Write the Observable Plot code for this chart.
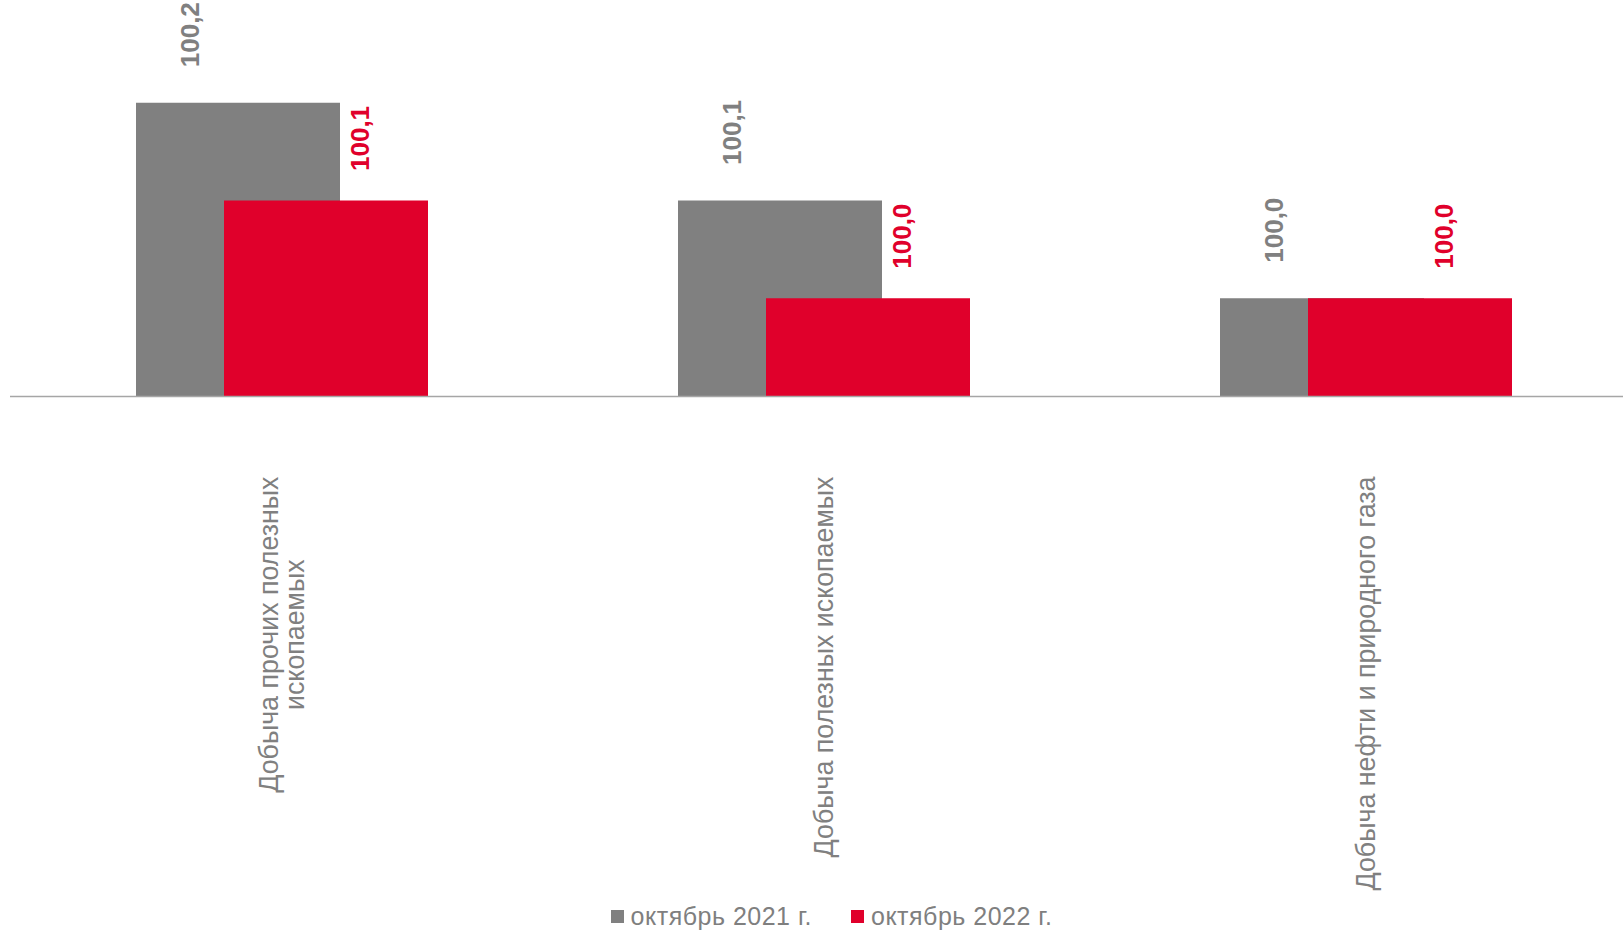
<!DOCTYPE html>
<html>
<head>
<meta charset="utf-8">
<script src="https://cdn.jsdelivr.net/npm/d3@7"></script>
<script src="https://cdn.jsdelivr.net/npm/@observablehq/plot@0.6"></script>
<style>
  html, body { margin: 0; padding: 0; background: #fff; }
  body { width: 1623px; height: 930px; overflow: hidden; font-family: "Liberation Sans", Arial, sans-serif; }
  #legend [class$="-swatch"] { margin-right: 39px !important; letter-spacing: 0.5px; }
  #legend [class$="-swatch"]:last-child { margin-right: 0 !important; }
  #legend [class$="-swatch"] svg { margin-right: 7px !important; }
</style>
</head>
<body>
<div id="chart"></div>
<div id="legend"></div>
<script>
const categories = [
  "Добыча прочих полезных\nископаемых",
  "Добыча полезных ископаемых",
  "Добыча нефти и природного газа"
];
const seriesNames = ["октябрь 2021 г.", "октябрь 2022 г."];
const values2021 = [100.2, 100.1, 100.0];
const values2022 = [100.1, 100.0, 100.0];
const seriesColors = ["#808080", "#E0002B"];
const baseline = 99.9;
const yMax = 100.3;

const rows2021 = categories.map((c, i) => ({category: c, value: values2021[i]}));
const rows2022 = categories.map((c, i) => ({category: c, value: values2022[i]}));
const fmt = v => v.toFixed(1).replace(".", ",");

const W = 1623, H = 900;
const plot = Plot.plot({
  width: W,
  height: H,
  marginLeft: 10,
  marginRight: 0,
  marginTop: 5,
  marginBottom: 504,
  style: {fontFamily: "'Liberation Sans', Arial, sans-serif", color: "#808080", background: "#fff"},
  x: {type: "band", domain: categories, range: [10, 1638], padding: 0},
  y: {domain: [baseline, yMax], axis: null},
  marks: [
    Plot.barY(rows2021, {x: "category", y1: baseline, y2: "value", fill: seriesColors[0], insetLeft: 125, insetRight: 213}),
    Plot.barY(rows2022, {x: "category", y1: baseline, y2: "value", fill: seriesColors[1], insetLeft: 213, insetRight: 125}),
    Plot.ruleY([baseline], {stroke: "#a6a6a6", strokeWidth: 1.5}),
    Plot.text(rows2021, {x: "category", y: "value", text: d => fmt(d.value), rotate: -90, textAnchor: "start", lineAnchor: "middle", dx: -92, dy: -36, fill: seriesColors[0], fontWeight: "bold", fontSize: 26}),
    Plot.text(rows2022, {x: "category", y: "value", text: d => fmt(d.value), rotate: -90, textAnchor: "start", lineAnchor: "middle", dx: 78, dy: -30, fill: seriesColors[1], fontWeight: "bold", fontSize: 26}),
    Plot.axisX({tickRotate: -90, tickSize: 0, tickPadding: 80, fontSize: 26.8, textAnchor: "end", lineAnchor: "middle", fill: "#808080", label: null})
  ]
});
document.getElementById("chart").appendChild(plot);

// center shorter lines of multi-line category labels relative to the longest line
plot.querySelectorAll("text").forEach(t => {
  const spans = t.querySelectorAll("tspan");
  if (spans.length > 1) {
    const widths = Array.from(spans, s => s.getComputedTextLength());
    const wmax = Math.max(...widths);
    spans.forEach((s, i) => s.setAttribute("x", -(wmax - widths[i]) / 2));
  }
});

const legend = Plot.legend({
  color: {type: "ordinal", domain: seriesNames, range: seriesColors},
  legend: "swatches",
  swatchSize: 13,
  style: {fontSize: "25px", color: "#7f7f7f", fontFamily: "'Liberation Sans', Arial, sans-serif"}
});
legend.style.justifyContent = "center";
legend.style.marginLeft = "0";
legend.style.paddingLeft = "40px";
document.getElementById("legend").appendChild(legend);
</script>
</body>
</html>
